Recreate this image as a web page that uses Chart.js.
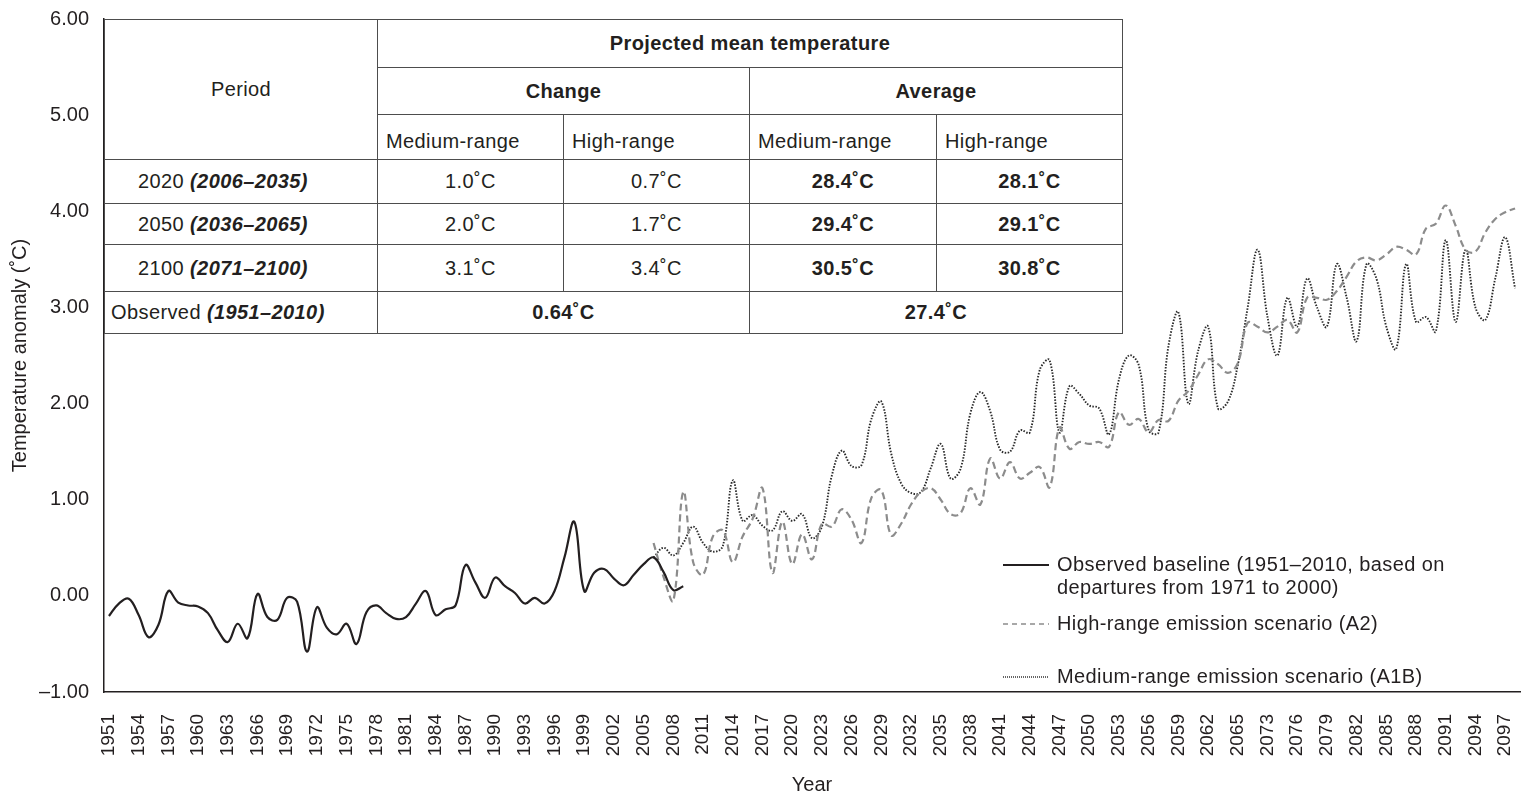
<!DOCTYPE html>
<html lang="en">
<head>
<meta charset="UTF-8">
<title>Temperature anomaly projections</title>
<script src="https://cdn.jsdelivr.net/npm/chart.js"></script>
<style>
  html, body { margin: 0; padding: 0; background: #fff; }
  body { font-family: "Liberation Sans", Arial, Helvetica, sans-serif; color: #231f20; }
  .wrap { position: relative; width: 1523px; height: 795px; overflow: hidden; }
  #chart { position: absolute; left: 0; top: 0; }

  /* summary table sitting in the top-left of the plot */
  .summary { position: absolute; left: 104px; top: 14px; border-collapse: collapse; table-layout: fixed;
             background: #fff; font-size: 20px; letter-spacing: 0.4px; width: 1018px; }
  .summary td { border: 1.5px solid #4d4d4d; padding: 0; text-align: center; white-space: nowrap; overflow: hidden; }
  .summary .sub td.sub-h { text-align: left; padding-left: 8px; vertical-align: bottom; padding-bottom: 6px; }
  .summary .per { text-align: left; padding-left: 33px; }
  .summary .per.obs { padding-left: 6px; }
  .summary b i, .summary i b { font-weight: bold; font-style: italic; }

  .legend { position: absolute; left: 1003px; top: 0; font-size: 20px; letter-spacing: 0.4px; line-height: 23px; }
  .legend .item { position: absolute; left: 0; white-space: nowrap; }
  .legend svg { position: absolute; left: 0; top: 10px; }
  .legend span { position: absolute; left: 54px; top: 0; }
</style>
</head>
<body>
<div class="wrap">
  <canvas id="chart" width="1523" height="795"></canvas>

  <table class="summary" id="summary">
    <colgroup>
      <col style="width:273px"><col style="width:186px"><col style="width:186px"><col style="width:187px"><col style="width:186px">
    </colgroup>
    <tr style="height:48px">
      <td rowspan="3">Period</td>
      <td colspan="4"><b>Projected mean temperature</b></td>
    </tr>
    <tr style="height:47px">
      <td colspan="2"><b>Change</b></td>
      <td colspan="2"><b>Average</b></td>
    </tr>
    <tr class="sub" style="height:45px">
      <td class="sub-h">Medium-range</td><td class="sub-h">High-range</td>
      <td class="sub-h">Medium-range</td><td class="sub-h">High-range</td>
    </tr>
    <tr style="height:44px">
      <td class="per">2020 <b><i>(2006–2035)</i></b></td>
      <td>1.0˚C</td><td>0.7˚C</td><td><b>28.4˚C</b></td><td><b>28.1˚C</b></td>
    </tr>
    <tr style="height:41px">
      <td class="per">2050 <b><i>(2036–2065)</i></b></td>
      <td>2.0˚C</td><td>1.7˚C</td><td><b>29.4˚C</b></td><td><b>29.1˚C</b></td>
    </tr>
    <tr style="height:47px">
      <td class="per">2100 <b><i>(2071–2100)</i></b></td>
      <td>3.1˚C</td><td>3.4˚C</td><td><b>30.5˚C</b></td><td><b>30.8˚C</b></td>
    </tr>
    <tr style="height:42px">
      <td class="per obs">Observed <b><i>(1951–2010)</i></b></td>
      <td colspan="2"><b>0.64˚C</b></td>
      <td colspan="2"><b>27.4˚C</b></td>
    </tr>
  </table>

  <div class="legend">
    <div class="item" style="top:553px">
      <svg width="46" height="4"><line x1="0" y1="2" x2="46" y2="2" stroke="#231f20" stroke-width="2"/></svg>
      <span>Observed baseline (1951–2010, based on<br>departures from 1971 to 2000)</span>
    </div>
    <div class="item" style="top:612px">
      <svg width="46" height="4"><line x1="0" y1="2" x2="46" y2="2" stroke="#8c8c8c" stroke-width="1.5" stroke-dasharray="5 4"/></svg>
      <span>High-range emission scenario (A2)</span>
    </div>
    <div class="item" style="top:665px">
      <svg width="46" height="4"><line x1="0" y1="2" x2="46" y2="2" stroke="#333" stroke-width="1.3" stroke-dasharray="1 1"/></svg>
      <span>Medium-range emission scenario (A1B)</span>
    </div>
  </div>
</div>

<script>
  // category years: the projections skip 2066-2070
  const yearRanges = [[1951, 2065], [2071, 2098]];
  const labelStep = 3;

  const observedStart = 1951;
  const observed = [
    -0.21, -0.08, -0.03, -0.2, -0.43, -0.3, 0.05, -0.07, -0.1, -0.11,
    -0.18, -0.36, -0.48, -0.29, -0.44, 0.02, -0.22, -0.25, -0.02, -0.06,
    -0.58, -0.12, -0.33, -0.4, -0.29, -0.5, -0.17, -0.1, -0.18, -0.24,
    -0.22, -0.08, 0.05, -0.2, -0.14, -0.1, 0.32, 0.14, -0.02, 0.19,
    0.1, 0.03, -0.08, -0.02, -0.08, 0.05, 0.4, 0.77, 0.05, 0.24,
    0.28, 0.18, 0.11, 0.22, 0.33, 0.4, 0.25, 0.06, 0.1
  ];

  const projectionStart = 2006;
  const highRange = [
    0.55, 0.2, -0.05, 1.08, 0.35, 0.22, 0.62, 0.68, 0.35, 0.62,
    0.8, 1.12, 0.24, 0.77, 0.33, 0.64, 0.38, 0.75, 0.72, 0.9,
    0.79, 0.55, 1.02, 1.1, 0.63, 0.75, 0.95, 1.08, 1.12, 1.0,
    0.85, 0.86, 1.12, 0.95, 1.43, 1.22, 1.39, 1.22, 1.28, 1.34,
    1.13, 1.75, 1.53, 1.6, 1.58, 1.6, 1.55, 1.91, 1.78, 1.84,
    1.7, 1.83, 1.82, 2.03, 2.13, 2.3, 2.46, 2.41, 2.32, 2.42,
    // 2071-2098
    2.84, 2.8, 2.74, 2.8, 2.87, 2.74, 3.1, 3.1, 3.08, 3.17,
    3.32, 3.48, 3.52, 3.49, 3.55, 3.63, 3.6, 3.55, 3.82, 3.87,
    4.06, 3.85, 3.6, 3.58, 3.78, 3.92, 3.99, 4.03
  ];
  const mediumRange = [
    0.4, 0.5, 0.42, 0.55, 0.72, 0.55, 0.46, 0.52, 1.2, 0.78,
    0.84, 0.73, 0.68, 0.88, 0.78, 0.85, 0.6, 0.72, 1.25, 1.51,
    1.35, 1.36, 1.84, 2.02, 1.48, 1.17, 1.07, 1.08, 1.33, 1.58,
    1.22, 1.32, 1.9, 2.12, 1.92, 1.52, 1.5, 1.72, 1.7, 2.35,
    2.45, 1.7, 2.18, 2.1, 1.98, 1.95, 1.68, 2.25, 2.5, 2.4,
    1.72, 1.7, 2.6, 2.95, 2.0, 2.55, 2.8, 1.95, 2.02, 2.4,
    // 2071-2098
    3.0, 3.6, 2.9, 2.5, 3.1, 2.8, 3.3, 3.0, 2.8, 3.45,
    3.1, 2.65, 3.45, 3.3, 2.8, 2.57, 3.45, 2.85, 2.9, 2.75,
    3.7, 2.85, 3.6, 3.0, 2.87, 3.3, 3.73, 3.2
  ];

  const yMin = -1, yMax = 6, yStep = 1;

  const years = [];
  yearRanges.forEach(([from, to]) => { for (let y = from; y <= to; y++) years.push(String(y)); });

  function alignSeries(startYear, values) {
    const out = years.map(() => null);
    const start = years.indexOf(String(startYear));
    values.forEach((v, i) => { out[start + i] = v; });
    return out;
  }

  const FONT = '"Liberation Sans", Arial, Helvetica, sans-serif';
  const INK = '#231f20';

  const chart = new Chart(document.getElementById('chart'), {
    type: 'line',
    data: {
      labels: years,
      datasets: [
        {
          label: 'Observed baseline (1951–2010, based on departures from 1971 to 2000)',
          data: alignSeries(observedStart, observed),
          borderColor: INK, borderWidth: 2.2, tension: 0.4, pointRadius: 0
        },
        {
          label: 'High-range emission scenario (A2)',
          data: alignSeries(projectionStart, highRange),
          borderColor: '#8c8c8c', borderWidth: 2.2, borderDash: [7, 4], tension: 0.4, pointRadius: 0
        },
        {
          label: 'Medium-range emission scenario (A1B)',
          data: alignSeries(projectionStart, mediumRange),
          borderColor: '#2b2b2b', borderWidth: 1.9, borderDash: [1.5, 1.5], tension: 0.4, pointRadius: 0
        }
      ]
    },
    options: {
      responsive: false,
      animation: false,
      devicePixelRatio: 1,
      layout: { padding: { top: 14, right: 3, left: 0, bottom: 0 } },
      plugins: { legend: { display: false }, tooltip: { enabled: false } },
      scales: {
        x: {
          type: 'category',
          offset: true,
          grid: { display: false },
          border: { display: true, color: INK, width: 1.5 },
          ticks: {
            autoSkip: false, minRotation: 90, maxRotation: 90, padding: 14,
            color: INK, font: { family: FONT, size: 19 },
            callback: function (v, i) { return i % labelStep === 0 ? this.getLabelForValue(v) : ''; }
          },
          title: { display: true, text: 'Year', color: INK, font: { family: FONT, size: 20, lineHeight: 1 }, padding: { top: 0, bottom: 0 } },
          // fixed axis height; drop the side padding the rotated labels would reserve
          afterFit: s => { s.height = 103; s.paddingLeft = 0; s.paddingRight = 0; }
        },
        y: {
          min: yMin, max: yMax,
          grid: { display: false },
          border: { display: true, color: INK, width: 1.5 },
          ticks: {
            stepSize: yStep, padding: 7, color: INK, font: { family: FONT, size: 20 },
            callback: v => (v < 0 ? '\u2013' : '') + Math.abs(v).toFixed(2)
          },
          title: { display: true, text: 'Temperature anomaly (˚C)', color: INK, font: { family: FONT, size: 20, lineHeight: 1 }, padding: { top: 10, bottom: 0 } },
          afterFit: s => { s.width = 104; }
        }
      }
    }
  });

  // pin the table to the top-left corner of the plot area
  const area = chart.chartArea;
  const table = document.getElementById('summary');
  table.style.left = area.left + 'px';
  table.style.top = area.top + 'px';
</script>
</body>
</html>
